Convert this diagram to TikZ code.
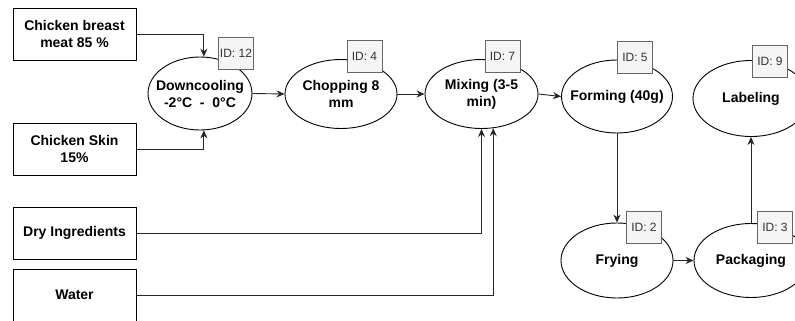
\documentclass[tikz,border=0pt]{standalone}
\usepackage{fontspec}
\setmainfont{Liberation Sans}
\usetikzlibrary{shapes.geometric,arrows.meta}
\definecolor{idfill}{HTML}{F5F5F5}
\definecolor{idline}{HTML}{666666}
\definecolor{idtext}{HTML}{333333}
\tikzset{
  inbox/.style={draw=black, line width=0.9pt, fill=white, minimum width=123pt, minimum height=52pt, inner sep=0pt, align=center, font=\fontsize{14}{17}\selectfont\bfseries},
  proc/.style={ellipse, draw=black, line width=0.9pt, fill=white, inner sep=0pt,
     label={[align=center, inner sep=0pt, font=\fontsize{14}{17}\selectfont\bfseries]center:#1}},
  idbox/.style={draw=idline, line width=0.9pt, fill=idfill, minimum width=35pt, minimum height=32pt, inner sep=0pt, text=idtext, font=\fontsize{12}{14}\selectfont},
  conn/.style={draw=black!85, line width=0.9pt},
  arr/.style={conn, -{Stealth[length=8pt,width=7pt]}}
}
\begin{document}
\begin{tikzpicture}[x=1pt,y=-1pt]
\useasboundingbox (0,0) rectangle (795,321);
\fill[white] (0,0) rectangle (795,321);
% input boxes
\node[inbox] (breast) at (74.5,34) {Chicken breast\\meat 85 \%};
\node[inbox] (skin) at (74.5,149) {Chicken Skin\\15\%};
\node[inbox] (dry) at (74.5,233) {Dry Ingredients};
\node[inbox] (water) at (74.5,295) {Water};
% process ellipses
\node[proc={Downcooling\\-2°C~~-~~0°C}, minimum width=104pt, minimum height=73pt] (dc) at (200,93.5) {};
\node[proc={Chopping 8\\mm}, minimum width=112pt, minimum height=69pt] (chop) at (341,94) {};
\node[proc={Mixing (3-5\\min)}, minimum width=113pt, minimum height=69pt] (mix) at (481.5,94) {};
\node[proc={Forming (40g)}, minimum width=111pt, minimum height=73pt] (form) at (617,96.5) {};
\node[proc={Labeling}, minimum width=116pt, minimum height=76pt] (lab) at (751,98.5) {};
\node[proc={Frying}, minimum width=112pt, minimum height=75pt] (fry) at (617,260.5) {};
\node[proc={Packaging}, minimum width=114pt, minimum height=74pt] (pack) at (751,260.5) {};
% connectors
\draw[arr] (breast.east) -| (dc.84);
\draw[arr] (skin.east) -| (dc.-84);
\draw[arr] (dc.east) -- (chop.west);
\draw[arr] (chop.east) -- (mix.west);
\draw[arr] (mix.east) -- (form.west);
\draw[arr] (dry.east) -| (mix.south);
\draw[arr] (water.east) -| (mix.-71);
\draw[arr] (form.south) -- (fry.north);
\draw[arr] (fry.east) -- (pack.west);
\draw[arr] (pack.north) -- (lab.south);
% ID tags
\node[idbox] (id12) at (236,53.5) {ID: 12};
\node[idbox] (id4) at (364.5,56) {ID: 4};
\node[idbox] (id7) at (502.5,56.5) {ID: 7};
\node[idbox] (id5) at (635,57.5) {ID: 5};
\node[idbox] (id9) at (770,61) {ID: 9};
\node[idbox] (id2) at (644,227.5) {ID: 2};
\node[idbox] (id3) at (775,227.5) {ID: 3};
\end{tikzpicture}
\end{document}
